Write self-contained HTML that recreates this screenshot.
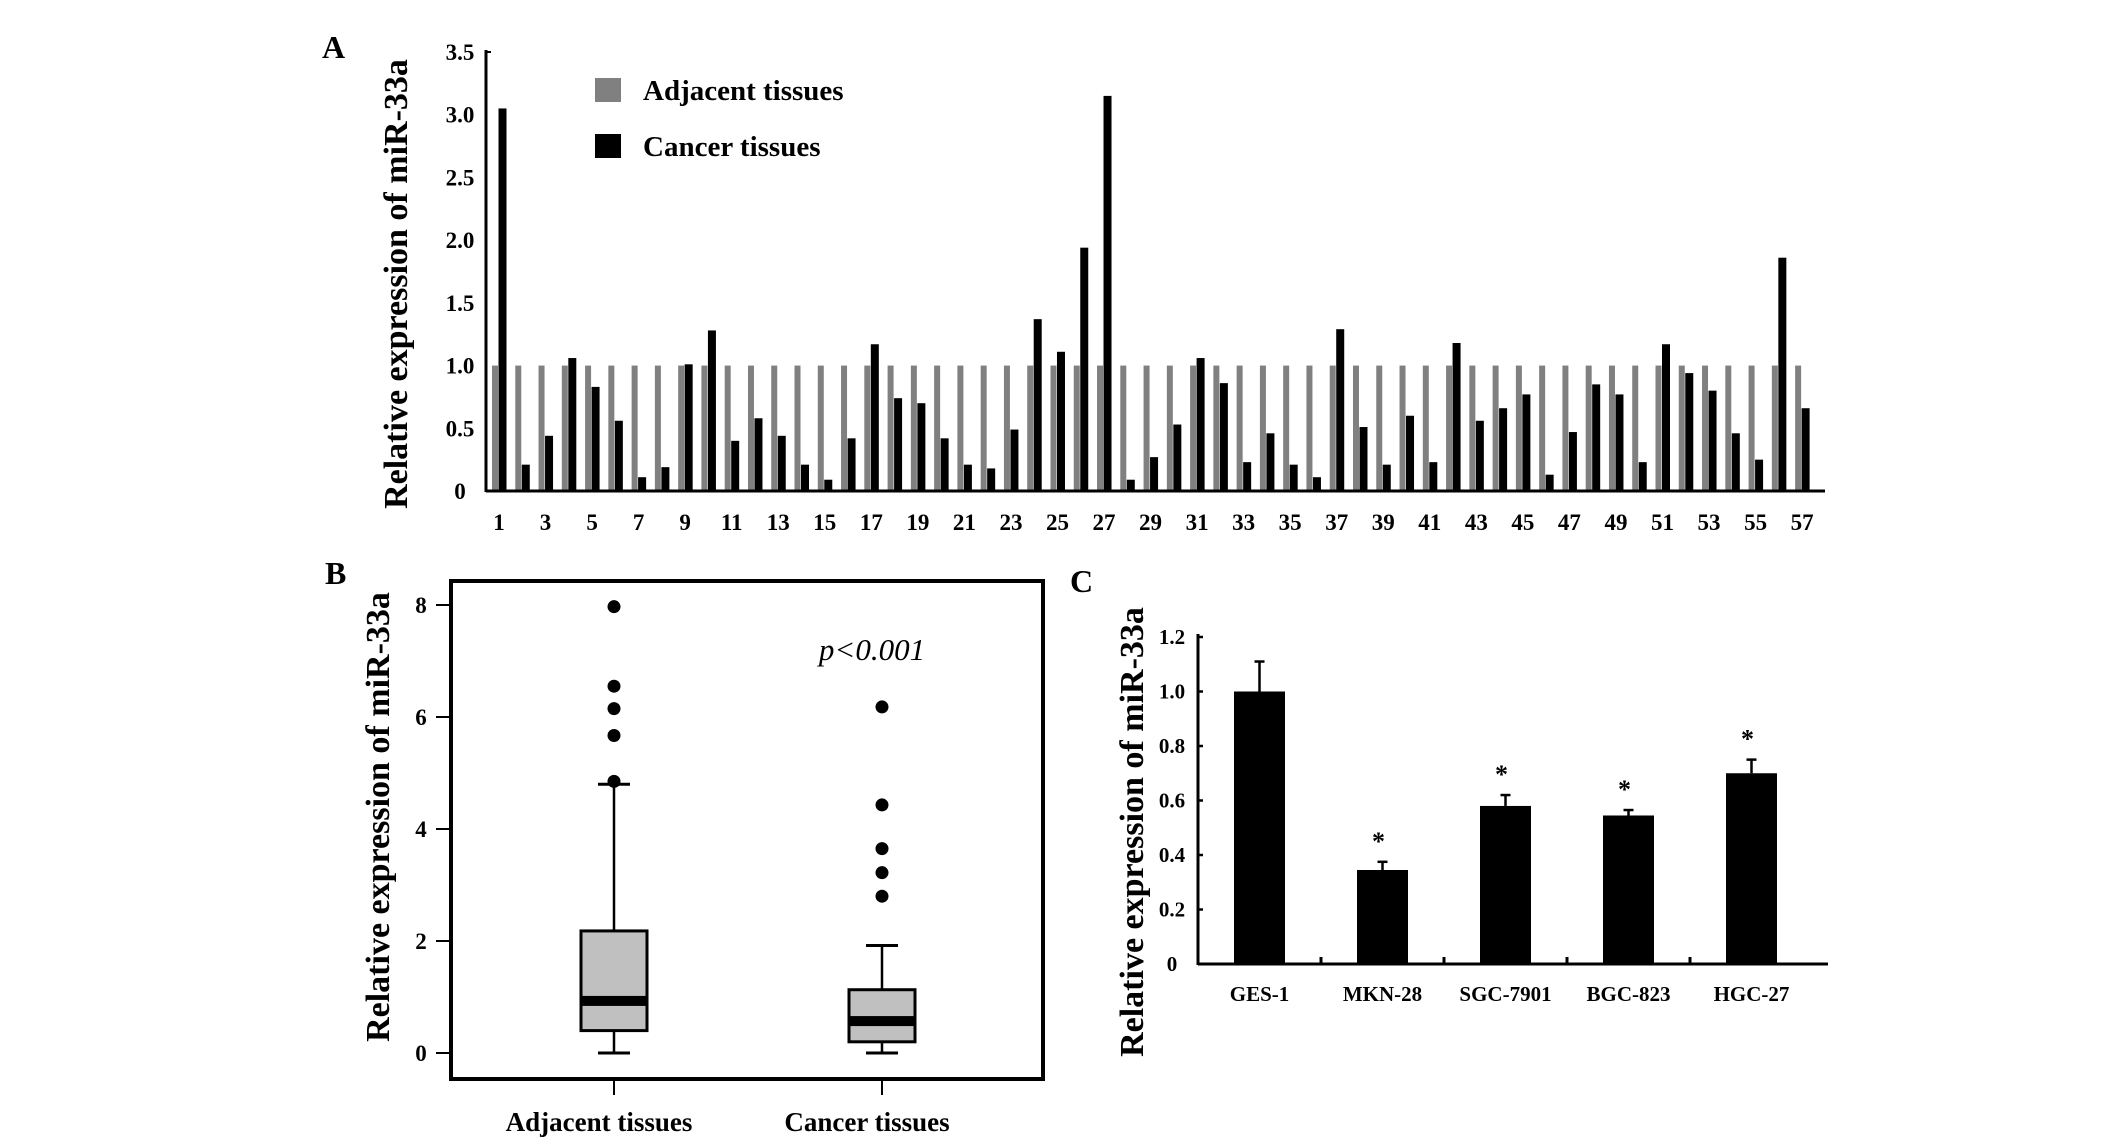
<!DOCTYPE html>
<html><head><meta charset="utf-8"><style>
html,body{margin:0;padding:0;background:#fff;}
svg{display:block;font-family:"Liberation Serif",serif;}
</style></head><body>
<svg id="fig" width="2126" height="1139" viewBox="0 0 2126 1139" xmlns="http://www.w3.org/2000/svg"></svg>
<script>
// Panel A data
const aCategories = Array.from({length:57},(_,i)=>i+1);
const aAdjacent = [1,1,1,1,1,1,1,1,1,1,1,1,1,1,1,1,1,1,1,1,1,1,1,1,1,1,1,1,1,1,1,1,1,1,1,1,1,1,1,1,1,1,1,1,1,1,1,1,1,1,1,1,1,1,1,1,1];
const aCancer = [3.05,0.21,0.44,1.06,0.83,0.56,0.11,0.19,1.01,1.28,0.40,0.58,0.44,0.21,0.09,0.42,1.17,0.74,0.70,0.42,0.21,0.18,0.49,1.37,1.11,1.94,3.15,0.09,0.27,0.53,1.06,0.86,0.23,0.46,0.21,0.11,1.29,0.51,0.21,0.60,0.23,1.18,0.56,0.66,0.77,0.13,0.47,0.85,0.77,0.23,1.17,0.94,0.80,0.46,0.25,1.86,0.66];
const aTicks = [0,0.5,1.0,1.5,2.0,2.5,3.0,3.5];
const aTickLabels = ["0","0.5","1.0","1.5","2.0","2.5","3.0","3.5"];
// Panel B data
const bGroups = ["Adjacent tissues","Cancer tissues"];
const bQ1 = [0.4,0.2];
const bMedian = [0.93,0.57];
const bQ3 = [2.18,1.13];
const bWhiskerLow = [0,0];
const bWhiskerHigh = [4.8,1.92];
const bOutliers = [[4.85,5.67,6.15,6.55,7.97],[2.8,3.22,3.65,4.43,6.18]];
const bTicks = [0,2,4,6,8];
// Panel C data
const cCategories = ["GES-1","MKN-28","SGC-7901","BGC-823","HGC-27"];
const cValues = [1.0,0.345,0.58,0.545,0.70];
const cErrors = [0.11,0.03,0.04,0.02,0.05];
const cStars = [false,true,true,true,true];
const cTicks = [0,0.2,0.4,0.6,0.8,1.0,1.2];
const cTickLabels = ["0","0.2","0.4","0.6","0.8","1.0","1.2"];

const svg = document.getElementById('fig');
const NS = "http://www.w3.org/2000/svg";
function mk(tag, attrs, parent){const e=document.createElementNS(NS,tag);for(const k in attrs)e.setAttribute(k,attrs[k]);(parent||svg).appendChild(e);return e;}
function txt(s, attrs, parent){const e=mk('text',attrs,parent);e.textContent=s;return e;}

// ---------- Panel A ----------
const gA = mk('g',{});


const aY = v => 491 - v*(491-52)/3.5;
const aX = i => 492 + i*23.27; // left of gray bar
const lA = txt('A',{x:322,y:58,'font-size':32,'font-weight':'bold'},gA);


aCategories.forEach((c,i)=>{
  const g = mk('rect',{x:aX(i),y:aY(aAdjacent[i]),width:6,height:aY(0)-aY(aAdjacent[i]),fill:'#808080'},gA);
  
  
  const b = mk('rect',{x:aX(i)+6.5,y:aY(aCancer[i]),width:8,height:aY(0)-aY(aCancer[i]),fill:'#000'},gA);
  
  
  if(c%2===1){
    const t = txt(String(c),{x:aX(i)+7,y:530,'font-size':23,'font-weight':'bold','text-anchor':'middle'},gA);
    
    
  }
});
mk('line',{x1:486,y1:491,x2:1825,y2:491,stroke:'#000','stroke-width':3},gA);
mk('line',{x1:486,y1:50,x2:486,y2:492,stroke:'#000','stroke-width':3},gA);
aTicks.forEach((v,i)=>{
  const t = txt(aTickLabels[i],{x:460,y:aY(v)+8,'font-size':23,'font-weight':'bold','text-anchor':'middle'},gA);
  
  
});
mk('line',{x1:486,y1:52,x2:491,y2:52,stroke:'#000','stroke-width':2},gA);
const ytA = txt('Relative expression of miR-33a',{x:0,y:0,'font-size':34,'font-weight':'bold','text-anchor':'middle',transform:'translate(407,284) rotate(-90)'},gA);


// legend
const lg1 = mk('rect',{x:595,y:78,width:26,height:24,fill:'#808080'},gA);


const lt1 = txt('Adjacent tissues',{x:643,y:100,'font-size':29,'font-weight':'bold'},gA);


const lg2 = mk('rect',{x:595,y:134,width:26,height:24,fill:'#000'},gA);


const lt2 = txt('Cancer tissues',{x:643,y:156,'font-size':29,'font-weight':'bold'},gA);



// ---------- Panel B ----------
const gB = mk('g',{});


const bY = v => 1053 - v*(1053-605)/8;
const bX = [614,882];
const lB = txt('B',{x:325,y:584,'font-size':32,'font-weight':'bold'},gB);


const fr = mk('rect',{x:451,y:581,width:592,height:498,fill:'none',stroke:'#000','stroke-width':4},gB);


bTicks.forEach(v=>{
  mk('line',{x1:436,y1:bY(v),x2:451,y2:bY(v),stroke:'#000','stroke-width':2},gB);
  const t = txt(String(v),{x:421,y:bY(v)+8,'font-size':23,'font-weight':'bold','text-anchor':'middle'},gB);
  
  
});
bGroups.forEach((g,i)=>{
  const x=bX[i];
  mk('line',{x1:x,y1:bY(bWhiskerLow[i]),x2:x,y2:bY(bWhiskerHigh[i]),stroke:'#000','stroke-width':2.5},gB);
  mk('line',{x1:x-16,y1:bY(bWhiskerLow[i]),x2:x+16,y2:bY(bWhiskerLow[i]),stroke:'#000','stroke-width':3},gB);
  mk('line',{x1:x-16,y1:bY(bWhiskerHigh[i]),x2:x+16,y2:bY(bWhiskerHigh[i]),stroke:'#000','stroke-width':3},gB);
  const box = mk('rect',{x:x-33,y:bY(bQ3[i]),width:66,height:bY(bQ1[i])-bY(bQ3[i]),fill:'#c0c0c0',stroke:'#000','stroke-width':3},gB);
  
  
  const med = mk('rect',{x:x-32,y:bY(bMedian[i])-5,width:64,height:10,fill:'#000'},gB);
  
  
  bOutliers[i].forEach(o=>{
    const c = mk('circle',{cx:x,cy:bY(o),r:6.5,fill:'#000'},gB);
    
    
  });
  mk('line',{x1:x,y1:1079,x2:x,y2:1095,stroke:'#000','stroke-width':2},gB);
  const t = txt(g,{x:x-15,y:1131,'font-size':27,'font-weight':'bold','text-anchor':'middle'},gB);
  
  
});
const pv = txt('p<0.001',{x:872,y:660,'font-size':31,'font-style':'italic','text-anchor':'middle'},gB);


const ytB = txt('Relative expression of miR-33a',{x:0,y:0,'font-size':34,'font-weight':'bold','text-anchor':'middle',transform:'translate(389,817) rotate(-90)'},gB);



// ---------- Panel C ----------
const gC = mk('g',{});


const cY = v => 964 - v*(964-637)/1.2;
const cX = i => 1259.5 + i*123;
const lC = txt('C',{x:1070,y:592,'font-size':32,'font-weight':'bold'},gC);


mk('line',{x1:1198,y1:964,x2:1828,y2:964,stroke:'#000','stroke-width':3},gC);
mk('line',{x1:1198,y1:634,x2:1198,y2:965,stroke:'#000','stroke-width':3},gC);
cTicks.forEach((v,i)=>{
  mk('line',{x1:1198,y1:cY(v),x2:1203,y2:cY(v),stroke:'#000','stroke-width':2.5},gC);
  const t = txt(cTickLabels[i],{x:1172,y:cY(v)+7,'font-size':21,'font-weight':'bold','text-anchor':'middle'},gC);
  
  
});
cCategories.forEach((c,i)=>{
  const x=cX(i);
  if(i>0) mk('line',{x1:x-61.5,y1:964,x2:x-61.5,y2:957,stroke:'#000','stroke-width':3},gC);
  const top = cY(cValues[i]+cErrors[i]);
  mk('line',{x1:x,y1:cY(cValues[i]),x2:x,y2:top,stroke:'#000','stroke-width':2.5},gC);
  mk('line',{x1:x-5,y1:top,x2:x+5,y2:top,stroke:'#000','stroke-width':2.5},gC);
  const b = mk('rect',{x:x-25.5,y:cY(cValues[i]),width:51,height:964-cY(cValues[i]),fill:'#000'},gC);
  
  
  if(cStars[i]){
    const s = txt('*',{x:x-4,y:top-12,'font-size':26,'font-weight':'bold','text-anchor':'middle'},gC);
    
    
  }
  const t = txt(c,{x:x,y:1001,'font-size':21,'font-weight':'bold','text-anchor':'middle'},gC);
  
  
});
const ytC = txt('Relative expression of miR-33a',{x:0,y:0,'font-size':34,'font-weight':'bold','text-anchor':'middle',transform:'translate(1143,832) rotate(-90)'},gC);


</script>
</body></html>
